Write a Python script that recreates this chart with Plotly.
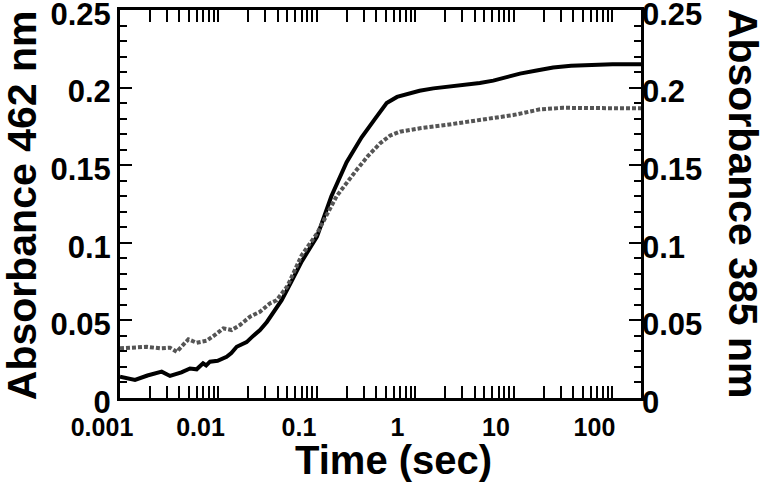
import plotly.graph_objects as go

# ---- data ----
t_462 = [0.001, 0.00142, 0.0019, 0.00265, 0.00322, 0.0042, 0.00514, 0.006, 0.00697, 0.0075,
         0.0082, 0.0098, 0.0121, 0.0135, 0.0153, 0.0193, 0.0225, 0.0264, 0.031, 0.0357,
         0.0438, 0.055, 0.07, 0.1, 0.14, 0.2, 0.284, 0.4, 0.51, 0.65, 0.815, 1.1, 1.52,
         2.2, 3.31, 4.5, 6.17, 8.5, 11.5, 17, 25, 38, 54.7, 100, 195]
a_462 = [0.0137, 0.0116, 0.0145, 0.017, 0.0142, 0.0165, 0.019, 0.0185, 0.0224, 0.021,
         0.0234, 0.024, 0.0266, 0.029, 0.033, 0.036, 0.040, 0.0438, 0.049, 0.055,
         0.063, 0.075, 0.088, 0.104, 0.130, 0.152, 0.168, 0.181, 0.190, 0.194, 0.196, 0.198, 0.1995,
         0.2005, 0.202, 0.203, 0.2045, 0.207, 0.209, 0.211, 0.213, 0.214, 0.2146, 0.215, 0.215]

t_385 = [0.001, 0.00135, 0.00187, 0.00255, 0.00322, 0.00377, 0.0043, 0.00494, 0.006, 0.00759,
         0.0092, 0.0112, 0.0136, 0.0165, 0.0209, 0.0264, 0.0333, 0.039, 0.05, 0.07,
         0.1, 0.158, 0.253, 0.33, 0.436, 0.55, 0.697, 1.11, 2.07, 4.52, 9.84, 18.4,
         31.6, 60, 100, 195]
a_385 = [0.032, 0.0325, 0.033, 0.032, 0.0324, 0.0298, 0.034, 0.0378, 0.0356, 0.0369,
         0.0406, 0.0449, 0.0438, 0.047, 0.0524, 0.0556, 0.061, 0.063, 0.072, 0.092,
         0.106, 0.130, 0.147, 0.156, 0.164, 0.169, 0.1716, 0.1738, 0.176, 0.179, 0.1823, 0.186,
         0.187, 0.1868, 0.1867, 0.1867]

x_tick_vals = [0.001, 0.01, 0.1, 1, 10, 100]
x_tick_text = ["0.001", "0.01", "0.1", "1", "10", "100"]
y_tick_vals = [0, 0.05, 0.1, 0.15, 0.2, 0.25]
y_tick_text = ["0", "0.05", "0.1", "0.15", "0.2", "0.25"]

FONT = "Liberation Sans, Arial, Helvetica, sans-serif"

fig = go.Figure()
fig.add_trace(go.Scatter(x=t_462, y=a_462, mode="lines", name="462 nm",
                         line=dict(color="black", width=4), xaxis="x", yaxis="y"))
fig.add_trace(go.Scatter(x=t_385, y=a_385, mode="lines", name="385 nm",
                         line=dict(color="#555555", width=4, dash="4px,2px"), xaxis="x", yaxis="y2"))

common_y = dict(range=[0, 0.25], tickvals=y_tick_vals, ticktext=y_tick_text,
                ticks="inside", ticklen=12, tickwidth=2, tickcolor="black",
                minor=dict(ticks="inside", ticklen=7, tickwidth=2, tickcolor="black", dtick=0.01, showgrid=False),
                showgrid=False, zeroline=False, automargin=False, ticklabeloverflow="allow",
                ticklabelshift=4,
                tickfont=dict(family=FONT, size=31, color="black", weight="bold"))

fig.update_layout(
    width=760, height=484,
    margin=dict(l=120, r=119, t=10, b=86),
    paper_bgcolor="white", plot_bgcolor="white",
    showlegend=False,
    font=dict(family=FONT, color="black", weight="bold"),
    xaxis=dict(type="log", range=[-3, 2.29], tickvals=x_tick_vals, ticktext=x_tick_text,
               ticks="inside", ticklen=12, tickwidth=2, tickcolor="black",
               ticklabelshift=-18, ticklabelstandoff=5, ticklabeloverflow="allow",
               tickfont=dict(family=FONT, size=25, color="black", weight="bold"),
               minor=dict(ticks="inside", ticklen=7, tickwidth=2, tickcolor="black", dtick="D1", showgrid=False),
               showline=True, linewidth=3, linecolor="black", mirror="allticks",
               showgrid=False, zeroline=False, automargin=False),
    yaxis=dict(**common_y, showline=True, linewidth=3, linecolor="black", mirror=True),
    yaxis2=dict(**common_y, overlaying="y", side="right", anchor="x", showline=False),
    annotations=[
        dict(text="Absorbance 462 nm", xref="paper", yref="paper", x=-0.188, y=0.497,
             textangle=-90, showarrow=False, xanchor="center", yanchor="middle",
             font=dict(family=FONT, size=41, color="black", weight="bold")),
        dict(text="Absorbance 385 nm", xref="paper", yref="paper", x=1.196, y=0.50,
             textangle=90, showarrow=False, xanchor="center", yanchor="middle",
             font=dict(family=FONT, size=41, color="black", weight="bold")),
        dict(text="Time (sec)", xref="paper", yref="paper", x=0.524, y=-0.16,
             showarrow=False, xanchor="center", yanchor="middle",
             font=dict(family=FONT, size=40, color="black", weight="bold")),
    ],
)

fig.write_html("out.html", config={"displayModeBar": False},
               post_script="document.body.style.margin='0px';")
